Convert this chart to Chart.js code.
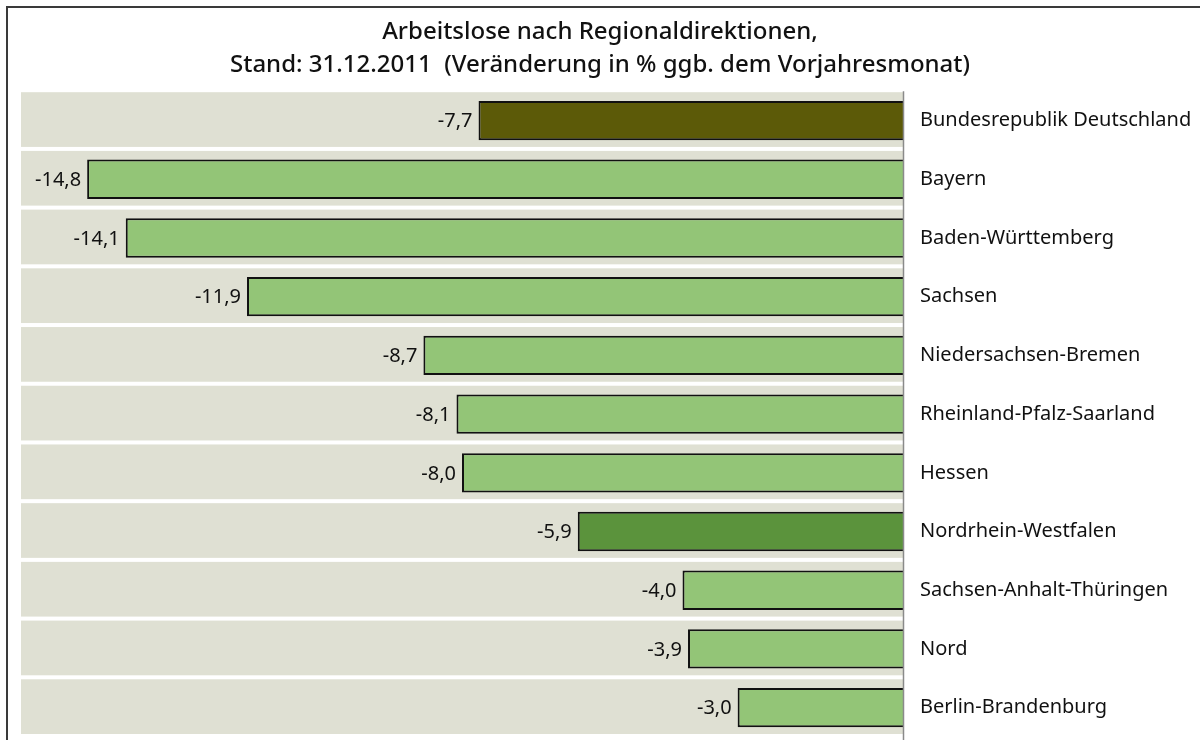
<!DOCTYPE html>
<html>
<head>
<meta charset="utf-8">
<script src="https://cdn.jsdelivr.net/npm/chart.js@4/dist/chart.umd.min.js"></script>
<style>
  html, body { margin: 0; padding: 0; background: #fff; }
  #wrap { position: relative; width: 1200px; height: 740px; }
  #frame {
    position: absolute; left: 6px; top: 6px; right: 0; bottom: 0;
    border-left: 2px solid #3a3a3a; border-top: 2px solid #3a3a3a;
    pointer-events: none;
  }
</style>
</head>
<body>
<div id="wrap">
  <canvas id="dataChart" width="1200" height="740"></canvas>
  <div id="frame"></div>
</div>
<script>
const regions = [
    'Bundesrepublik Deutschland',
    'Bayern',
    'Baden-Württemberg',
    'Sachsen',
    'Niedersachsen-Bremen',
    'Rheinland-Pfalz-Saarland',
    'Hessen',
    'Nordrhein-Westfalen',
    'Sachsen-Anhalt-Thüringen',
    'Nord',
    'Berlin-Brandenburg'
];
const changePct = [-7.7, -14.8, -14.1, -11.9, -8.7, -8.1, -8.0, -5.9, -4.0, -3.9, -3.0];
const titleLines = [
    'Arbeitslose nach Regionaldirektionen,',
    'Stand: 31.12.2011  (Veränderung in % ggb. dem Vorjahresmonat)'
];

const barColor = (ctx) => {
    const name = regions[ctx.dataIndex];
    if (name === 'Bundesrepublik Deutschland') return '#5c5a08';
    if (name === 'Nordrhein-Westfalen') return '#5b933c';
    return '#93c577';
};

// grey row bands behind the bars, zero line and value labels
const bandPlugin = {
    id: 'bands',
    beforeDatasetsDraw(chart) {
        const { ctx, chartArea, scales } = chart;
        const zeroX = scales.x.getPixelForValue(0);
        const pitch = chartArea.height / regions.length;
        ctx.save();
        ctx.fillStyle = '#dfe0d3';
        regions.forEach((r, i) => {
            const yc = scales.y.getPixelForValue(i);
            ctx.fillRect(chartArea.left, yc - pitch / 2 + 1, zeroX - chartArea.left, pitch - 4);
        });
        ctx.restore();
    },
    afterDatasetsDraw(chart) {
        const { ctx, chartArea, scales } = chart;
        const zeroX = Math.round(scales.x.getPixelForValue(0)) + 0.5;
        ctx.save();
        ctx.strokeStyle = '#8a8a8a';
        ctx.lineWidth = 1.5;
        ctx.beginPath();
        ctx.moveTo(zeroX, chartArea.top);
        ctx.lineTo(zeroX, chart.height);
        ctx.stroke();

        ctx.fillStyle = '#111';
        ctx.font = '20px "Noto Sans"';
        ctx.textAlign = 'right';
        ctx.textBaseline = 'middle';
        chart.getDatasetMeta(0).data.forEach((bar, i) => {
            const txt = changePct[i].toFixed(1).replace('.', ',');
            ctx.fillText(txt, bar.x - 6, bar.y + 1);
        });
        ctx.restore();
    }
};

let chart;

function initializeChart() {
    const ctx = document.getElementById('dataChart').getContext('2d');

    chart = new Chart(ctx, {
        type: 'bar',
        data: {
            labels: regions,
            datasets: [{
                data: changePct,
                backgroundColor: barColor,
                borderColor: '#111',
                borderWidth: 2,
                barPercentage: 0.67,
                categoryPercentage: 1
            }]
        },
        options: {
            indexAxis: 'y',
            responsive: false,
            animation: false,
            layout: { padding: { left: 0, right: 0, top: 1, bottom: 3 } },
            plugins: {
                legend: { display: false },
                tooltip: { enabled: false },
                title: {
                    display: true,
                    text: titleLines,
                    color: '#111',
                    font: { family: 'Noto Sans', size: 24, weight: '500', lineHeight: 1.4 },
                    padding: { top: 14, bottom: 9 }
                }
            },
            scales: {
                x: {
                    display: false,
                    min: -16,
                    max: 0
                },
                y: {
                    position: 'right',
                    grid: { display: false },
                    border: { display: false },
                    ticks: {
                        color: '#111',
                        padding: 9,
                        font: { family: 'Noto Sans', size: 20 }
                    },
                    afterFit: (scale) => {
                        scale.width = 297;
                        scale.paddingTop = 0;
                        scale.paddingBottom = 0;
                    }
                },
                yLeft: {
                    axis: 'y',
                    position: 'left',
                    grid: { display: false },
                    border: { display: false },
                    ticks: { display: false },
                    afterFit: (scale) => { scale.width = 21; }
                }
            }
        },
        plugins: [bandPlugin]
    });
}

document.addEventListener('DOMContentLoaded', initializeChart);
</script>
</body>
</html>
